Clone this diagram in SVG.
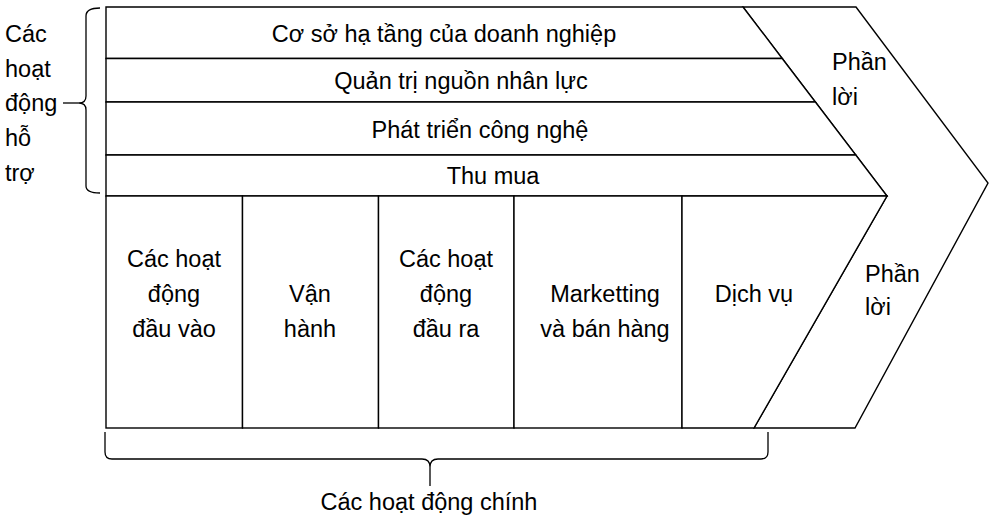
<svg xmlns="http://www.w3.org/2000/svg" width="990" height="519" viewBox="0 0 990 519">
<style>
.s{fill:#fff;stroke:#000;stroke-width:1.4;stroke-linejoin:miter}
.b{fill:none;stroke:#000;stroke-width:1.3}
text{font-family:"Liberation Sans",Arial,sans-serif;font-size:23.5px;fill:#000}
.c{text-anchor:middle}
</style>
<rect width="990" height="519" fill="#fff"/>
<g id="margin">
<polygon class="s" points="743,7 856,7 988,183 855,428 754,428 887,196"/>
<text x="832" y="70">Phần</text><text x="832" y="105">lời</text>
<text x="865" y="282">Phần</text><text x="865" y="315">lời</text>
</g>
<g id="infra">
<polygon class="s" points="106,7 743,7 782.2,58.5 106,58.5"/>
<text class="c" x="444" y="42">Cơ sở hạ tầng của doanh nghiệp</text>
</g>
<g id="hr">
<polygon class="s" points="106,58.5 782.2,58.5 815.4,102 106,102"/>
<text class="c" x="461" y="89">Quản trị nguồn nhân lực</text>
</g>
<g id="tech">
<polygon class="s" points="106,102 815.4,102 855.8,155 106,155"/>
<text class="c" x="480" y="138">Phát triển công nghệ</text>
</g>
<g id="procurement">
<polygon class="s" points="106,155 855.8,155 887,196 106,196"/>
<text class="c" x="493" y="184">Thu mua</text>
</g>
<g id="inbound">
<rect class="s" x="106" y="196" width="136.5" height="232"/>
<text class="c" x="174" y="267">Các hoạt</text><text class="c" x="174" y="302">động</text><text class="c" x="174" y="337">đầu vào</text>
</g>
<g id="operations">
<rect class="s" x="242.5" y="196" width="136" height="232"/>
<text class="c" x="310" y="302">Vận</text><text class="c" x="310" y="337">hành</text>
</g>
<g id="outbound">
<rect class="s" x="378.5" y="196" width="135.5" height="232"/>
<text class="c" x="446" y="267">Các hoạt</text><text class="c" x="446" y="302">động</text><text class="c" x="446" y="337">đầu ra</text>
</g>
<g id="marketing">
<rect class="s" x="514" y="196" width="168" height="232"/>
<text class="c" x="605" y="302">Marketting</text><text class="c" x="605" y="337">và bán hàng</text>
</g>
<g id="service">
<polygon class="s" points="682,196 887,196 754,428 682,428"/>
<text class="c" x="754" y="302">Dịch vụ</text>
</g>
<g id="connectors">
<path class="b" d="M100,8 Q86,8 86,16 V96 Q86,103 79,103 Q86,103 86,110 V186 Q86,193 100,193"/>
<path class="b" d="M63,103 H79"/>
<path class="b" d="M105,432 V452 Q105,459 112,459 H422 Q430,459 430,467 V486 M430,467 Q430,459 438,459 H761 Q768,459 768,452 V432"/>
</g>
<g id="support-label">
<text x="5" y="42">Các</text><text x="5" y="76.5">hoạt</text><text x="5" y="111">động</text><text x="5" y="146">hỗ</text><text x="5" y="181">trợ</text>
</g>
<g id="primary-label">
<text class="c" x="429" y="510">Các hoạt động chính</text>
</g>
</svg>
